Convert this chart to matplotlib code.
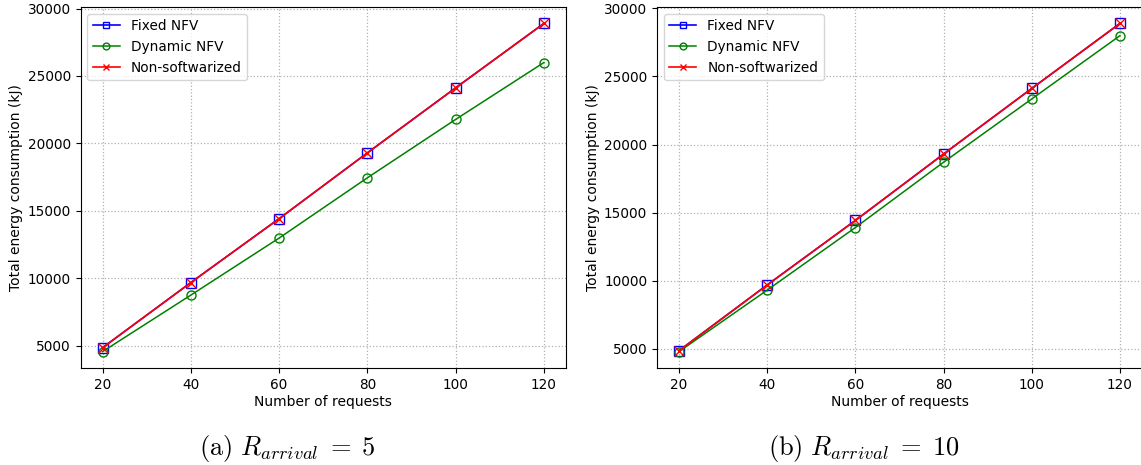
import matplotlib
matplotlib.use("Agg")
import matplotlib.pyplot as plt

# Number of requests on the x axis
requests = [20, 40, 60, 80, 100, 120]

# (a) R_arrival = 5
fixed_a = [4850, 9680, 14420, 19300, 24120, 28900]
dynamic_a = [4560, 8750, 12980, 17450, 21780, 26000]
nonsoft_a = [4850, 9680, 14420, 19300, 24120, 28900]

# (b) R_arrival = 10
fixed_b = [4850, 9680, 14420, 19300, 24120, 28900]
dynamic_b = [4780, 9300, 13900, 18700, 23350, 28000]
nonsoft_b = [4850, 9680, 14420, 19300, 24120, 28900]

captions = [r"$\mathrm{(a)}\ R_{arrival}\;=\;5$", r"$\mathrm{(b)}\ R_{arrival}\;=\;10$"]
caption_x = [287 / 1141, 864 / 1141]

plt.rcParams['mathtext.fontset'] = 'cm'
plt.rcParams['font.size'] = 10

fig = plt.figure(figsize=(11.41, 4.65), dpi=100)
ax_a = fig.add_axes([80.5 / 1141, 1 - 368 / 465, (566 - 80.5) / 1141, (368 - 7) / 465])
ax_b = fig.add_axes([657 / 1141, 1 - 368 / 465, (1142 - 657) / 1141, (368 - 7) / 465])

panels = [(ax_a, fixed_a, dynamic_a, nonsoft_a), (ax_b, fixed_b, dynamic_b, nonsoft_b)]
for (ax, fixed, dynamic, nonsoft), cap, cx in zip(panels, captions, caption_x):
    ax.plot(requests, fixed, color='blue', marker='s', fillstyle='none',
            markersize=6.5, lw=1.2, label='Fixed NFV')
    ax.plot(requests, dynamic, color='green', marker='o', fillstyle='none',
            markersize=6.5, lw=1.1, label='Dynamic NFV')
    ax.plot(requests, nonsoft, color='red', marker='x',
            markersize=6.5, lw=1.2, label='Non-softwarized')
    ax.set_xticks(requests)
    ax.set_yticks([5000, 10000, 15000, 20000, 25000, 30000])
    ax.tick_params(labelsize=9.8)
    ax.set_xlabel("Number of requests", labelpad=2)
    ax.set_ylabel("Total energy consumption (kJ)", labelpad=3)
    ax.grid(True, linestyle=':', color='#b0b0b0', lw=0.9)
    ax.legend(loc='upper left', fontsize=9.8, markerscale=0.75)
    fig.text(cx, 1 - 455 / 465, cap, ha='center', va='baseline', fontsize=19)

fig.savefig("out.png", dpi=100)
